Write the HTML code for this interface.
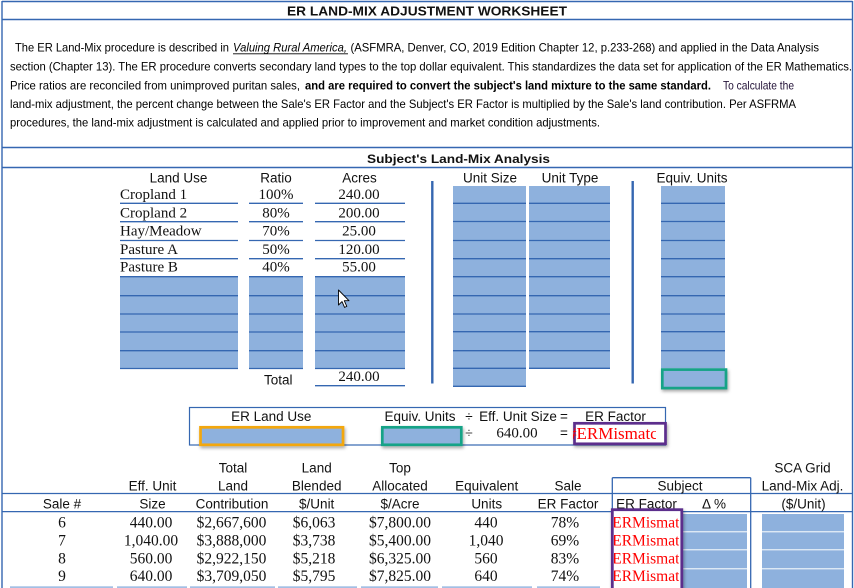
<!DOCTYPE html>
<html>
<head>
<meta charset="utf-8">
<style>
  html,body{margin:0;padding:0;background:#fff;}
  svg{display:block;}
  .ar{font-family:"Liberation Sans",Arial,sans-serif;}
  .tm{font-family:"Liberation Serif","Times New Roman",serif;}
</style>
</head>
<body>
<svg width="854" height="588" viewBox="0 0 854 588" xmlns="http://www.w3.org/2000/svg">
  <defs>
    <filter id="sh" x="-20%" y="-40%" width="140%" height="180%">
      <feDropShadow dx="1" dy="2" stdDeviation="1.5" flood-color="#000" flood-opacity="0.35"/>
    </filter>
    <clipPath id="c1"><rect x="573" y="424" width="83" height="20"/></clipPath>
    <clipPath id="c2"><rect x="614" y="511" width="65" height="77"/></clipPath>
  </defs>
  <rect x="0" y="0" width="854" height="588" fill="#fff"/>

  <!-- outer frame and section lines -->
  <g stroke="#3567b1" stroke-width="1.4" fill="none">
    <line x1="2" y1="1.5" x2="852.5" y2="1.5"/>
    <line x1="2" y1="1" x2="2" y2="588"/>
    <line x1="852.5" y1="1" x2="852.5" y2="588"/>
    <line x1="2" y1="19.5" x2="852.5" y2="19.5"/>
    <line x1="2" y1="147.5" x2="852.5" y2="147.5"/>
    <line x1="2" y1="167.5" x2="852.5" y2="167.5"/>
  </g>

  <!-- title -->
  <text class="ar" x="287" y="15.7" font-size="12.5" font-weight="bold" fill="#111" textLength="280" lengthAdjust="spacingAndGlyphs">ER LAND-MIX ADJUSTMENT WORKSHEET</text>

  <!-- paragraph -->
  <g class="ar" font-size="12" fill="#000">
    <text x="15" y="51.5" textLength="214" lengthAdjust="spacingAndGlyphs">The ER Land-Mix procedure is described in</text>
    <text x="233" y="51.5" font-style="italic" textLength="114" lengthAdjust="spacingAndGlyphs">Valuing Rural America,</text>
    <line x1="233" y1="53.8" x2="348" y2="53.8" stroke="#000" stroke-width="0.9"/>
    <text x="350.5" y="51.5" textLength="468.5" lengthAdjust="spacingAndGlyphs">(ASFMRA, Denver, CO, 2019 Edition Chapter 12, p.233-268) and applied in the Data Analysis</text>
    <text x="10" y="70.5" textLength="842" lengthAdjust="spacingAndGlyphs">section (Chapter 13). The ER procedure converts secondary land types to the top dollar equivalent. This standardizes the data set for application of the ER Mathematics.</text>
    <text x="10" y="89.3" textLength="290" lengthAdjust="spacingAndGlyphs">Price ratios are reconciled from unimproved puritan sales,</text>
    <text x="305" y="89.3" font-weight="bold" textLength="406" lengthAdjust="spacingAndGlyphs">and are required to convert the subject's land mixture to the same standard.</text>
    <text x="723" y="89.3" fill="#231238" textLength="71" lengthAdjust="spacingAndGlyphs">To calculate the</text>
    <text x="10" y="108" textLength="786" lengthAdjust="spacingAndGlyphs">land-mix adjustment, the percent change between the Sale's ER Factor and the Subject's ER Factor is multiplied by the Sale's land contribution. Per ASFRMA</text>
    <text x="10" y="126.7" textLength="590" lengthAdjust="spacingAndGlyphs">procedures, the land-mix adjustment is calculated and applied prior to improvement and market condition adjustments.</text>
  </g>

  <!-- section header -->
  <text class="ar" x="367" y="163" font-size="12" font-weight="bold" fill="#111" textLength="183" lengthAdjust="spacingAndGlyphs">Subject's Land-Mix Analysis</text>

  <!-- upper table headers -->
  <g class="ar" font-size="13.5" fill="#111" text-anchor="middle">
    <text x="178.5" y="182.7">Land Use</text>
    <text x="276" y="182.7">Ratio</text>
    <text x="359.5" y="182.7">Acres</text>
    <text x="490" y="182.7">Unit Size</text>
    <text x="570" y="182.7">Unit Type</text>
    <text x="692" y="182.7">Equiv. Units</text>
  </g>

  <!-- blue fills upper -->
  <g fill="#8eb1dd">
    <rect x="120" y="277" width="118" height="91.5"/>
    <rect x="249" y="277" width="54" height="91.5"/>
    <rect x="315" y="277" width="90" height="91.5"/>
    <rect x="453" y="186" width="73" height="200.3"/>
    <rect x="529" y="186" width="81" height="182.3"/>
    <rect x="661" y="186" width="64" height="182.3"/>
  </g>

  <!-- upper row lines -->
  <g stroke="#3567b1" stroke-width="1.3">
    <g>
      <line x1="120" y1="203.3" x2="238" y2="203.3"/><line x1="249" y1="203.3" x2="303" y2="203.3"/><line x1="315" y1="203.3" x2="405" y2="203.3"/>
      <line x1="120" y1="221.7" x2="238" y2="221.7"/><line x1="249" y1="221.7" x2="303" y2="221.7"/><line x1="315" y1="221.7" x2="405" y2="221.7"/>
      <line x1="120" y1="240.5" x2="238" y2="240.5"/><line x1="249" y1="240.5" x2="303" y2="240.5"/><line x1="315" y1="240.5" x2="405" y2="240.5"/>
      <line x1="120" y1="258.7" x2="238" y2="258.7"/><line x1="249" y1="258.7" x2="303" y2="258.7"/><line x1="315" y1="258.7" x2="405" y2="258.7"/>
      <line x1="120" y1="276.7" x2="238" y2="276.7"/><line x1="249" y1="276.7" x2="303" y2="276.7"/><line x1="315" y1="276.7" x2="405" y2="276.7"/>
      <line x1="120" y1="295.7" x2="238" y2="295.7"/><line x1="249" y1="295.7" x2="303" y2="295.7"/><line x1="315" y1="295.7" x2="405" y2="295.7"/>
      <line x1="120" y1="314" x2="238" y2="314"/><line x1="249" y1="314" x2="303" y2="314"/><line x1="315" y1="314" x2="405" y2="314"/>
      <line x1="120" y1="332" x2="238" y2="332"/><line x1="249" y1="332" x2="303" y2="332"/><line x1="315" y1="332" x2="405" y2="332"/>
      <line x1="120" y1="350.7" x2="238" y2="350.7"/><line x1="249" y1="350.7" x2="303" y2="350.7"/><line x1="315" y1="350.7" x2="405" y2="350.7"/>
      <line x1="120" y1="368.5" x2="238" y2="368.5"/><line x1="249" y1="368.5" x2="303" y2="368.5"/><line x1="315" y1="368.5" x2="405" y2="368.5"/>
      <line x1="315" y1="385.7" x2="405" y2="385.7"/>
    </g>
    <g>
      <line x1="453" y1="203.3" x2="526" y2="203.3"/><line x1="453" y1="221.5" x2="526" y2="221.5"/><line x1="453" y1="240.5" x2="526" y2="240.5"/>
      <line x1="453" y1="258.7" x2="526" y2="258.7"/><line x1="453" y1="276.7" x2="526" y2="276.7"/><line x1="453" y1="295.7" x2="526" y2="295.7"/>
      <line x1="453" y1="314" x2="526" y2="314"/><line x1="453" y1="331.7" x2="526" y2="331.7"/><line x1="453" y1="350.7" x2="526" y2="350.7"/>
      <line x1="453" y1="368.3" x2="526" y2="368.3"/><line x1="453" y1="386.3" x2="526" y2="386.3"/>
    </g>
    <g>
      <line x1="529" y1="203.3" x2="610" y2="203.3"/><line x1="529" y1="221.5" x2="610" y2="221.5"/><line x1="529" y1="240.5" x2="610" y2="240.5"/>
      <line x1="529" y1="258.7" x2="610" y2="258.7"/><line x1="529" y1="276.7" x2="610" y2="276.7"/><line x1="529" y1="295.7" x2="610" y2="295.7"/>
      <line x1="529" y1="314" x2="610" y2="314"/><line x1="529" y1="331.7" x2="610" y2="331.7"/><line x1="529" y1="350.7" x2="610" y2="350.7"/>
      <line x1="529" y1="368.3" x2="610" y2="368.3"/>
    </g>
    <g>
      <line x1="661" y1="203.3" x2="725" y2="203.3"/><line x1="661" y1="221.5" x2="725" y2="221.5"/><line x1="661" y1="240.5" x2="725" y2="240.5"/>
      <line x1="661" y1="258.7" x2="725" y2="258.7"/><line x1="661" y1="276.7" x2="725" y2="276.7"/><line x1="661" y1="295.7" x2="725" y2="295.7"/>
      <line x1="661" y1="314" x2="725" y2="314"/><line x1="661" y1="331.7" x2="725" y2="331.7"/><line x1="661" y1="350.7" x2="725" y2="350.7"/>
    </g>
  </g>

  <!-- vertical separators -->
  <g stroke="#3567b1" stroke-width="2.4">
    <line x1="432.3" y1="181" x2="432.3" y2="383.5"/>
    <line x1="632.7" y1="181" x2="632.7" y2="383.5"/>
  </g>

  <!-- land use values -->
  <g class="tm" font-size="15" fill="#111">
    <text x="120" y="199">Cropland 1</text>
    <text x="120" y="217.3">Cropland 2</text>
    <text x="120" y="235.7">Hay/Meadow</text>
    <text x="120" y="254">Pasture A</text>
    <text x="120" y="271.7">Pasture B</text>
  </g>
  <g class="tm" font-size="15" fill="#111" text-anchor="middle">
    <text x="276" y="199">100%</text>
    <text x="276" y="217.3">80%</text>
    <text x="276" y="235.7">70%</text>
    <text x="276" y="254">50%</text>
    <text x="276" y="271.7">40%</text>
    <text x="359" y="199">240.00</text>
    <text x="359" y="217.3">200.00</text>
    <text x="359" y="235.7">25.00</text>
    <text x="359" y="254">120.00</text>
    <text x="359" y="271.7">55.00</text>
    <text x="359" y="381">240.00</text>
  </g>
  <text class="ar" x="278.3" y="384.5" font-size="13.5" fill="#111" text-anchor="middle">Total</text>

  <!-- cursor -->
  <polygon points="338.5,290 338.5,305 342,301.6 344.6,307.4 346.8,306.4 344.3,300.7 349,300.7" fill="#fff" stroke="#000" stroke-width="0.9" stroke-linejoin="round"/>

  <!-- equiv units total cell with green box -->
  <g filter="url(#sh)">
    <rect x="662.3" y="369.6" width="63.7" height="18.5" fill="#8eb1dd" stroke="#14a387" stroke-width="2.7"/>
  </g>

  <!-- ER land use box -->
  <rect x="189.5" y="407.5" width="476" height="37.5" fill="none" stroke="#3567b1" stroke-width="1.2"/>
  <g class="ar" font-size="13.5" fill="#111">
    <text x="271.3" y="421" text-anchor="middle">ER Land Use</text>
    <text x="420" y="421" text-anchor="middle">Equiv. Units</text>
    <text x="469" y="421" text-anchor="middle">÷</text>
    <text x="518" y="421" text-anchor="middle">Eff. Unit Size</text>
    <text x="564" y="421" text-anchor="middle">=</text>
    <text x="615.5" y="421" text-anchor="middle">ER Factor</text>
    <text x="469" y="437.3" text-anchor="middle" fill="#444">÷</text>
    <text x="564" y="437.3" text-anchor="middle">=</text>
  </g>
  <text class="tm" x="517" y="437.3" font-size="15" fill="#111" text-anchor="middle">640.00</text>

  <g filter="url(#sh)">
    <rect x="200.5" y="427.3" width="142.5" height="17.5" fill="#8eb1dd" stroke="#f3a70c" stroke-width="2.7"/>
    <rect x="382.3" y="427.3" width="79" height="17.5" fill="#8eb1dd" stroke="#14a387" stroke-width="2.7"/>
    <rect x="574.5" y="423.3" width="91" height="20.5" fill="#fff" stroke="#5b2d8c" stroke-width="2.7"/>
  </g>
  <g clip-path="url(#c1)">
    <text class="tm" x="568" y="439" font-size="17" fill="#ff0000">#ERMismatch</text>
  </g>

  <!-- lower table header lines -->
  <g stroke="#3567b1" stroke-width="1.3" fill="none">
    <line x1="2" y1="493.5" x2="852.5" y2="493.5"/>
    <line x1="2" y1="511.6" x2="852.5" y2="511.6"/>
    <line x1="612.3" y1="477.7" x2="750.7" y2="477.7"/>
    <line x1="612.3" y1="477.7" x2="612.3" y2="511.6"/>
    <line x1="750.7" y1="477.7" x2="750.7" y2="588"/>
  </g>

  <!-- lower table headers -->
  <g class="ar" font-size="13.5" fill="#111" text-anchor="middle">
    <text x="233" y="472.7">Total</text>
    <text x="316.7" y="472.7">Land</text>
    <text x="400" y="472.7">Top</text>
    <text x="802.5" y="472.7">SCA Grid</text>

    <text x="152.5" y="490.7">Eff. Unit</text>
    <text x="233" y="490.7">Land</text>
    <text x="316.7" y="490.7">Blended</text>
    <text x="400" y="490.7">Allocated</text>
    <text x="486.7" y="490.7">Equivalent</text>
    <text x="568" y="490.7">Sale</text>
    <text x="680" y="490.7">Subject</text>
    <text x="802.5" y="490.7">Land-Mix Adj.</text>

    <text x="62" y="508.7">Sale #</text>
    <text x="152.5" y="508.7">Size</text>
    <text x="232" y="508.7">Contribution</text>
    <text x="316.7" y="508.7">$/Unit</text>
    <text x="400" y="508.7">$/Acre</text>
    <text x="486.7" y="508.7">Units</text>
    <text x="568" y="508.7">ER Factor</text>
    <text x="646.5" y="508.7">ER Factor</text>
    <text x="714" y="508.7">Δ %</text>
    <text x="803.5" y="508.7">($/Unit)</text>
  </g>

  <!-- lower blue cells -->
  <g fill="#8eb1dd">
    <rect x="683" y="514" width="64" height="17.3"/>
    <rect x="683" y="532.3" width="64" height="17"/>
    <rect x="683" y="550.3" width="64" height="18"/>
    <rect x="683" y="569.3" width="64" height="18.7"/>
    <rect x="762" y="514" width="82" height="17.3"/>
    <rect x="762" y="532.3" width="82" height="17"/>
    <rect x="762" y="550.3" width="82" height="18"/>
    <rect x="762" y="569.3" width="82" height="18.7"/>
  </g>

  <!-- bottom light segments -->
  <g fill="#a3bfe4">
    <rect x="10" y="586.3" width="103" height="1.7"/>
    <rect x="117" y="586.3" width="70" height="1.7"/>
    <rect x="190" y="586.3" width="85" height="1.7"/>
    <rect x="278" y="586.3" width="79" height="1.7"/>
    <rect x="361" y="586.3" width="77" height="1.7"/>
    <rect x="442" y="586.3" width="90" height="1.7"/>
    <rect x="537" y="586.3" width="63" height="1.7"/>
  </g>

  <!-- lower data -->
  <g class="tm" font-size="15.5" fill="#111" text-anchor="middle">
    <text x="62" y="527.5">6</text>
    <text x="62" y="545.5">7</text>
    <text x="62" y="563.5">8</text>
    <text x="62" y="581">9</text>

    <text x="151" y="527.5">440.00</text>
    <text x="151" y="545.5">1,040.00</text>
    <text x="151" y="563.5">560.00</text>
    <text x="151" y="581">640.00</text>

    <text x="231.5" y="527.5">$2,667,600</text>
    <text x="231.5" y="545.5">$3,888,000</text>
    <text x="231.5" y="563.5">$2,922,150</text>
    <text x="231.5" y="581">$3,709,050</text>

    <text x="314" y="527.5">$6,063</text>
    <text x="314" y="545.5">$3,738</text>
    <text x="314" y="563.5">$5,218</text>
    <text x="314" y="581">$5,795</text>

    <text x="400" y="527.5">$7,800.00</text>
    <text x="400" y="545.5">$5,400.00</text>
    <text x="400" y="563.5">$6,325.00</text>
    <text x="400" y="581">$7,825.00</text>

    <text x="486" y="527.5">440</text>
    <text x="486" y="545.5">1,040</text>
    <text x="486" y="563.5">560</text>
    <text x="486" y="581">640</text>

    <text x="565" y="527.5">78%</text>
    <text x="565" y="545.5">69%</text>
    <text x="565" y="563.5">83%</text>
    <text x="565" y="581">74%</text>
  </g>

  <!-- purple subject ER factor box -->
  <g filter="url(#sh)">
    <rect x="612.3" y="509.7" width="69.5" height="82" fill="#fff" stroke="#5b2d8c" stroke-width="2.8"/>
  </g>
  <g clip-path="url(#c2)" class="tm" font-size="15.5" fill="#ff0000">
    <text x="604.5" y="527.5">#ERMismatch</text>
    <text x="604.5" y="545.5">#ERMismatch</text>
    <text x="604.5" y="563.5">#ERMismatch</text>
    <text x="604.5" y="581">#ERMismatch</text>
  </g>
</svg>
</body>
</html>
